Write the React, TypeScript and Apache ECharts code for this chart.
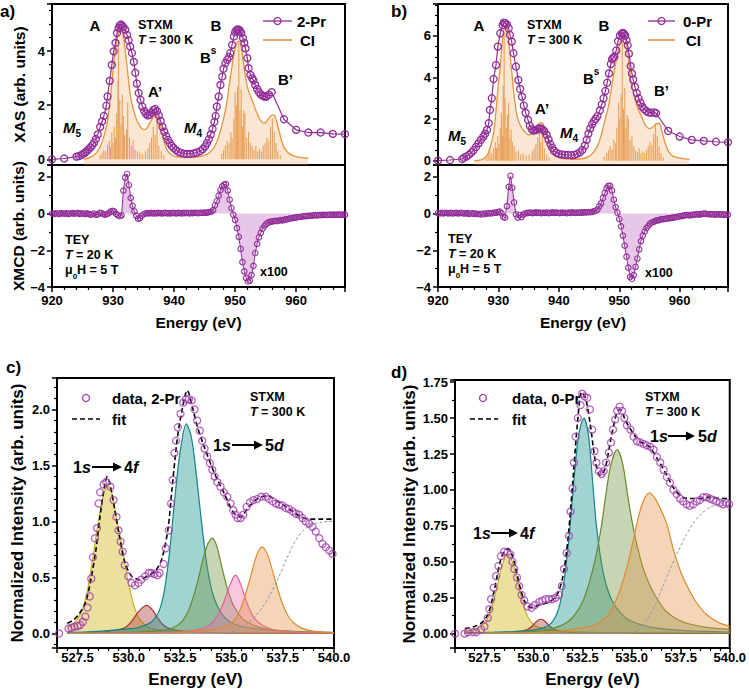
import React, { useEffect, useRef } from 'react';
import * as echarts from 'echarts';

const FF = '"Liberation Sans", Arial, Helvetica, sans-serif';
const PURPLE = '#922e98';
const DATA_PURPLE = '#a23cae';
const ORANGE = '#e8943a';
const XFILL = 'rgba(190,110,195,0.55)';

// ---------- (a) XAS 2-Pr ----------
const xasA = [[920.0,0.0],[922.0,0.03],[924.0,0.1],[924.4,0.12],[924.8,0.16],[925.1,0.2],[925.4,0.25],[925.7,0.3],[926.0,0.37],[926.3,0.44],[926.6,0.52],[926.9,0.62],[927.2,0.75],[927.5,0.92],[927.9,1.2],[928.2,1.4],[928.5,1.6],[928.9,1.98],[929.1,2.32],[929.45,2.9],[929.8,3.49],[930.1,3.99],[930.4,4.3],[930.65,4.67],[930.9,4.85],[931.1,4.95],[931.3,4.98],[931.5,4.93],[931.7,4.88],[932.0,4.79],[932.3,4.6],[932.55,4.4],[932.8,4.17],[933.1,3.93],[933.4,3.6],[933.65,3.2],[933.9,2.8],[934.2,2.45],[934.5,2.2],[934.8,1.95],[935.1,1.78],[935.4,1.68],[935.7,1.62],[936.0,1.65],[936.3,1.73],[936.6,1.82],[936.9,1.86],[937.2,1.78],[937.5,1.62],[937.8,1.42],[938.1,1.2],[938.4,1.02],[938.7,0.86],[939.0,0.72],[939.3,0.6],[939.6,0.5],[939.9,0.42],[940.3,0.34],[940.7,0.28],[941.1,0.24],[941.6,0.21],[942.1,0.2],[942.6,0.2],[943.2,0.22],[943.7,0.25],[944.3,0.3],[944.7,0.38],[945.1,0.48],[945.4,0.6],[945.7,0.74],[946.0,0.92],[946.3,1.12],[946.6,1.38],[946.8,1.6],[947.0,1.95],[947.3,2.32],[947.6,2.75],[947.9,3.06],[948.1,3.35],[948.4,3.55],[948.7,3.68],[949.0,3.78],[949.2,3.93],[949.5,4.23],[949.8,4.54],[950.0,4.7],[950.2,4.77],[950.4,4.8],[950.6,4.79],[950.8,4.75],[951.0,4.67],[951.3,4.48],[951.5,4.3],[951.7,4.1],[952.0,3.74],[952.2,3.37],[952.5,3.12],[952.8,3.0],[953.0,2.92],[953.3,2.75],[953.6,2.6],[953.9,2.48],[954.2,2.4],[954.5,2.35],[954.8,2.32],[955.1,2.32],[955.5,2.38],[956.0,2.48],[958.0,1.48],[960.0,1.09],[962.0,0.99],[964.0,0.99],[966.0,0.94],[968.0,0.93]];
const ciA = [[925.2,0.0],[926.5,0.1],[927.3,0.25],[927.9,0.47],[928.5,0.85],[929.0,1.3],[929.4,1.95],[929.8,2.8],[930.1,3.5],[930.4,4.05],[930.7,4.5],[930.95,4.7],[931.3,4.75],[931.5,4.7],[931.7,4.54],[932.0,4.0],[932.3,3.43],[932.55,2.9],[932.8,2.44],[933.1,2.05],[933.4,1.8],[933.8,1.5],[934.2,1.3],[934.6,1.17],[935.0,1.1],[935.4,1.12],[935.8,1.25],[936.2,1.42],[936.6,1.56],[936.9,1.62],[937.2,1.6],[937.5,1.45],[937.8,1.2],[938.1,0.92],[938.4,0.62],[938.7,0.42],[939.0,0.3],[939.5,0.18],[940.0,0.12],[941.0,0.08],[942.5,0.07],[944.0,0.09],[945.0,0.15],[945.8,0.25],[946.5,0.42],[947.1,0.7],[947.6,1.05],[948.2,1.6],[948.7,2.2],[949.1,2.85],[949.5,3.45],[949.8,3.9],[950.1,4.2],[950.4,4.35],[950.6,4.37],[950.85,4.3],[951.1,4.0],[951.4,3.5],[951.7,3.05],[952.0,2.69],[952.4,2.4],[952.8,2.18],[953.2,1.92],[953.6,1.7],[954.0,1.5],[954.4,1.38],[954.7,1.33],[955.0,1.36],[955.4,1.48],[955.8,1.6],[956.2,1.65],[956.5,1.6],[956.8,1.4],[957.2,1.05],[957.6,0.7],[958.0,0.45],[958.5,0.28],[959.1,0.18],[960.0,0.1],[961.0,0.06],[962.0,0.04]];
const sticksA = [[927.9,0.15],[928.2,0.25],[928.5,0.35],[928.8,0.3],[929.1,0.55],[929.4,0.7],[929.6,0.45],[929.8,1.0],[930.0,0.6],[930.2,1.2],[930.4,0.8],[930.6,1.7],[930.8,2.9],[930.9,4.4],[931.1,2.2],[931.3,1.3],[931.5,2.4],[931.7,1.6],[931.9,0.9],[932.2,1.1],[932.4,2.1],[932.7,0.8],[933.0,0.5],[933.3,0.7],[933.6,0.35],[934.0,0.3],[934.4,0.25],[934.8,0.2],[935.3,0.3],[935.7,0.4],[936.0,0.6],[936.3,0.8],[936.6,1.2],[936.9,0.9],[937.2,1.5],[937.5,0.5],[937.9,0.3],[938.3,0.15],[947.8,0.2],[948.1,0.35],[948.4,0.5],[948.7,0.7],[949.0,0.6],[949.3,1.0],[949.5,0.8],[949.8,1.5],[950.0,2.5],[950.2,2.0],[950.4,2.7],[950.6,4.3],[950.8,1.8],[951.0,2.6],[951.2,1.2],[951.4,1.8],[951.6,1.7],[951.9,0.8],[952.2,1.0],[952.5,0.6],[952.8,0.5],[953.1,0.35],[953.4,0.5],[953.7,0.3],[954.0,0.4],[954.3,0.3],[954.6,0.5],[954.9,0.6],[955.2,0.8],[955.5,0.7],[955.8,1.2],[956.1,1.5],[956.4,1.0],[956.7,0.6],[957.0,0.3],[957.4,0.15]];

// ---------- (b) XAS 0-Pr ----------
const xasB = [[920.0,0.0],[922.0,0.03],[924.0,0.08],[924.3,0.14],[924.7,0.2],[925.1,0.27],[925.5,0.38],[925.9,0.51],[926.3,0.66],[926.7,0.83],[927.1,1.0],[927.5,1.16],[927.8,1.3],[928.1,1.48],[928.4,1.8],[928.6,2.44],[928.9,3.0],[929.2,3.93],[929.6,4.6],[929.9,5.49],[930.3,6.13],[930.7,6.53],[930.9,6.64],[931.1,6.62],[931.4,6.56],[931.7,6.37],[931.9,6.05],[932.2,5.73],[932.5,5.17],[932.9,4.53],[933.3,3.88],[933.6,3.45],[933.9,3.08],[934.2,2.65],[934.5,2.3],[934.9,1.96],[935.2,1.68],[935.5,1.52],[935.8,1.45],[936.1,1.47],[936.4,1.5],[936.7,1.55],[937.0,1.55],[937.3,1.5],[937.6,1.42],[938.0,1.24],[938.3,1.02],[938.6,0.8],[938.9,0.62],[939.2,0.48],[939.6,0.38],[940.0,0.32],[940.5,0.3],[941.0,0.28],[941.5,0.27],[942.1,0.26],[942.6,0.28],[943.0,0.32],[943.5,0.4],[943.9,0.52],[944.3,0.72],[944.6,1.0],[944.9,1.3],[945.2,1.55],[945.5,1.75],[945.8,1.9],[946.1,2.02],[946.4,2.15],[946.8,2.42],[947.1,2.7],[947.4,3.0],[947.7,3.35],[948.0,3.75],[948.3,4.2],[948.6,4.65],[948.8,4.88],[949.0,4.95],[949.2,5.0],[949.5,5.3],[949.8,5.75],[950.1,6.02],[950.4,6.12],[950.6,6.15],[950.8,6.1],[951.0,6.02],[951.2,5.8],[951.4,5.55],[951.6,5.15],[951.9,4.55],[952.1,4.2],[952.3,3.9],[952.6,3.55],[952.9,3.25],[953.2,3.0],[953.5,2.8],[953.8,2.6],[954.1,2.48],[954.5,2.38],[954.9,2.32],[955.3,2.31],[955.8,2.32],[956.1,2.28],[958.1,1.43],[960.0,1.16],[962.0,1.0],[964.0,0.95],[966.0,0.91],[968.0,0.88]];
const ciB = [[926.0,0.0],[927.3,0.05],[928.0,0.2],[928.4,0.43],[928.8,0.8],[929.2,1.3],[929.5,2.1],[929.75,2.9],[930.0,3.7],[930.3,4.5],[930.55,5.4],[930.8,6.1],[931.1,6.45],[931.3,6.42],[931.5,6.3],[931.7,5.8],[931.9,5.2],[932.2,4.3],[932.5,3.4],[932.75,2.8],[933.0,2.28],[933.4,1.85],[933.9,1.56],[934.4,1.38],[935.0,1.24],[935.5,1.3],[936.1,1.48],[936.5,1.68],[936.9,1.83],[937.2,1.82],[937.4,1.77],[937.7,1.55],[938.0,1.32],[938.25,0.98],[938.5,0.67],[938.9,0.42],[939.4,0.27],[940.0,0.16],[940.5,0.11],[941.5,0.08],[942.7,0.06],[944.0,0.1],[944.9,0.19],[945.5,0.33],[946.0,0.51],[946.6,0.85],[947.1,1.32],[947.6,1.9],[948.2,2.6],[948.7,3.5],[949.3,4.53],[949.7,5.15],[950.1,5.65],[950.4,5.9],[950.6,6.0],[950.8,5.98],[951.0,5.89],[951.25,5.5],[951.5,5.0],[951.75,4.35],[952.0,3.72],[952.4,3.2],[952.8,2.76],[953.2,2.42],[953.7,2.12],[954.1,1.85],[954.5,1.64],[954.9,1.55],[955.3,1.56],[955.7,1.66],[956.1,1.77],[956.6,1.8],[957.0,1.48],[957.4,1.05],[957.8,0.67],[958.2,0.42],[958.6,0.27],[959.3,0.17],[960.3,0.11],[961.6,0.06]];
const sticksB = [[928.0,0.15],[928.3,0.3],[928.6,0.45],[928.9,0.35],[929.2,0.6],[929.5,0.9],[929.7,0.6],[929.9,1.2],[930.1,0.8],[930.3,1.6],[930.5,2.3],[930.65,1.2],[930.8,3.6],[930.95,6.2],[931.1,3.0],[931.3,1.6],[931.5,2.2],[931.7,2.8],[931.9,1.1],[932.1,1.5],[932.3,0.9],[932.6,0.7],[932.9,0.45],[933.3,0.5],[933.7,0.3],[934.1,0.35],[934.6,0.25],[935.1,0.3],[935.6,0.45],[935.9,0.6],[936.2,0.8],[936.5,1.1],[936.8,1.4],[937.0,0.9],[937.3,1.7],[937.6,0.6],[938.0,0.3],[938.4,0.15],[947.5,0.2],[947.9,0.35],[948.2,0.5],[948.5,0.7],[948.8,0.55],[949.1,1.0],[949.4,0.85],[949.6,1.6],[949.9,2.8],[950.1,2.0],[950.3,3.2],[950.5,5.8],[950.7,2.5],[950.9,3.5],[951.1,1.6],[951.3,2.2],[951.5,2.0],[951.8,1.0],[952.1,1.2],[952.4,0.7],[952.7,0.5],[953.0,0.4],[953.3,0.6],[953.6,0.35],[953.9,0.45],[954.2,0.35],[954.5,0.55],[954.8,0.7],[955.1,0.9],[955.4,0.75],[955.7,1.3],[956.0,1.8],[956.3,1.2],[956.6,0.7],[956.9,0.35],[957.3,0.15]];

// ---------- XMCD (x100), energy grid 920 eV + 0.3 eV steps ----------
const XMCD_E0 = 920;
const XMCD_DE = 0.3;
const xmcdAValues = [
  0.00,-0.02,0.01,0.00,-0.03,0.02,0.00,-0.01,0.01,-0.02,
  0.00,0.02,-0.01,0.00,0.03,-0.02,0.01,0.00,-0.03,0.01,
  -0.02,-0.06,-0.04,0.00,-0.08,-0.05,0.04,0.02,-0.04,-0.06,
  -0.04,0.02,0.10,0.14,0.12,-0.02,-0.10,-0.15,-0.10,1.25,
  1.95,2.15,1.55,0.85,0.42,0.12,-0.12,-0.28,-0.25,-0.12,
  -0.04,0.00,0.02,0.01,0.03,0.00,0.02,0.01,0.03,0.02,
  0.00,0.02,0.03,0.01,0.02,0.00,0.03,0.02,0.01,0.03,
  0.02,0.00,0.03,0.02,0.04,0.01,0.03,0.02,0.04,0.03,
  0.02,0.04,0.03,0.05,0.04,0.06,0.08,0.10,0.18,0.45,
  0.68,0.97,1.28,1.48,1.57,1.60,1.25,0.75,0.30,-0.06,
  -0.35,-0.80,-1.27,-1.93,-2.65,-3.15,-3.50,-3.70,-3.65,-3.35,
  -2.85,-2.15,-1.65,-1.30,-1.05,-0.82,-0.68,-0.56,-0.50,-0.46,
  -0.44,-0.42,-0.40,-0.41,-0.38,-0.36,-0.37,-0.33,-0.32,-0.30,
  -0.27,-0.25,-0.24,-0.22,-0.20,-0.19,-0.18,-0.16,-0.15,-0.14,
  -0.13,-0.12,-0.12,-0.10,-0.09,-0.10,-0.08,-0.09,-0.07,-0.08,
  -0.07,-0.08,-0.06,-0.07,-0.06,-0.07,-0.06,-0.06,-0.07,-0.06,
  -0.06];
const xmcdBValues = [
  0.02,0.00,0.03,0.01,0.04,0.02,0.00,0.03,0.01,0.02,
  0.03,0.00,0.02,0.04,0.01,0.00,0.02,-0.02,0.00,0.01,
  -0.02,0.00,-0.04,-0.02,-0.05,0.00,-0.03,0.01,0.02,0.00,
  0.02,0.05,0.04,0.08,0.10,0.02,-0.18,-0.22,0.40,1.45,
  2.05,1.40,0.60,-0.05,-0.22,-0.08,-0.20,-0.06,0.00,0.02,
  0.03,0.05,0.02,0.04,0.06,0.03,0.05,0.02,0.04,0.03,
  0.05,0.02,0.04,0.06,0.03,0.05,0.04,0.02,0.05,0.03,
  0.04,0.02,0.05,0.03,0.06,0.04,0.03,0.05,0.04,0.06,
  0.05,0.07,0.06,0.08,0.07,0.09,0.12,0.15,0.22,0.40,
  0.55,0.85,1.12,1.38,1.50,1.50,1.25,0.75,0.35,0.05,
  -0.30,-0.70,-1.20,-1.75,-2.35,-2.95,-3.45,-3.55,-3.35,-2.90,
  -2.45,-1.95,-1.50,-1.20,-0.98,-0.80,-0.68,-0.55,-0.49,-0.45,
  -0.40,-0.37,-0.36,-0.32,-0.31,-0.30,-0.28,-0.27,-0.25,-0.24,
  -0.22,-0.20,-0.19,-0.16,-0.14,-0.13,-0.10,-0.09,-0.08,-0.10,
  -0.07,-0.08,-0.05,-0.04,-0.06,-0.03,-0.02,0.00,-0.02,-0.04,
  -0.03,-0.05,-0.04,-0.06,-0.05,-0.04,-0.06,-0.05,-0.07,-0.06,
  -0.06];
const fillRangesA = [[931.4, 933.6], [946.4, 960.0]];
const fillRangesB = [[931.4, 932.9], [946.4, 960.0]];

// ---------- (c) O K-edge 2-Pr ----------
const cData = [[526.6,0.0],[527.06,0.044],[527.2,0.05],[527.34,0.06],[527.5,0.065],[527.63,0.075],[527.76,0.104],[527.88,0.15],[527.99,0.23],[528.09,0.33],[528.17,0.49],[528.25,0.68],[528.35,0.85],[528.45,0.94],[528.53,1.16],[528.6,1.26],[528.77,1.33],[528.9,1.35],[529.1,1.31],[529.26,1.19],[529.4,1.04],[529.5,0.92],[529.6,0.82],[529.7,0.73],[529.8,0.61],[529.97,0.51],[530.13,0.45],[530.3,0.43],[530.47,0.45],[530.6,0.48],[530.8,0.51],[530.97,0.54],[531.1,0.54],[531.25,0.53],[531.4,0.52],[531.5,0.54],[531.7,0.62],[531.8,0.76],[531.95,0.92],[532.06,1.16],[532.14,1.37],[532.22,1.61],[532.3,1.72],[532.39,1.84],[532.52,1.96],[532.65,2.06],[532.78,2.09],[532.93,2.09],[533.06,2.08],[533.2,2.0],[533.33,1.9],[533.46,1.81],[533.58,1.72],[533.69,1.65],[533.82,1.58],[533.95,1.52],[534.07,1.46],[534.18,1.4],[534.31,1.35],[534.47,1.31],[534.63,1.26],[534.8,1.22],[534.96,1.16],[535.09,1.1],[535.2,1.06],[535.3,1.03],[535.45,1.03],[535.58,1.06],[535.74,1.13],[535.9,1.17],[536.07,1.19],[536.26,1.2],[536.46,1.22],[536.67,1.22],[536.83,1.2],[537.0,1.18],[537.16,1.16],[537.32,1.15],[537.49,1.14],[537.65,1.12],[537.81,1.11],[537.97,1.09],[538.14,1.07],[538.3,1.06],[538.46,1.03],[538.62,1.0],[538.79,0.98],[538.95,0.95],[539.11,0.91],[539.28,0.85],[539.44,0.8],[539.6,0.77],[539.77,0.74],[539.93,0.71]];
const cFit = [[527.0,0.09],[527.3,0.12],[527.6,0.18],[527.9,0.28],[528.15,0.48],[528.4,0.75],[528.6,1.05],[528.8,1.3],[528.95,1.4],[529.1,1.32],[529.3,1.12],[529.55,0.86],[529.8,0.64],[530.1,0.52],[530.5,0.48],[530.9,0.51],[531.3,0.56],[531.6,0.66],[531.9,0.92],[532.1,1.28],[532.35,1.72],[532.6,2.0],[532.85,2.17],[533.1,2.02],[533.35,1.84],[533.65,1.68],[534.15,1.44],[534.65,1.25],[535.1,1.08],[535.45,1.04],[535.8,1.12],[536.25,1.2],[536.75,1.23],[537.25,1.18],[537.9,1.1],[538.4,1.04],[538.8,1.02],[539.4,1.02],[540.0,1.02]];
const cYellow = [[527.0,0.05],[527.25,0.08],[527.5,0.13],[527.75,0.22],[528.0,0.4],[528.25,0.68],[528.5,0.98],[528.75,1.22],[528.95,1.32],[529.15,1.27],[529.4,1.03],[529.65,0.8],[529.9,0.53],[530.15,0.31],[530.4,0.17],[530.65,0.1],[530.9,0.06],[531.4,0.035],[532.0,0.022],[533.0,0.012],[534.0,0.008],[535.0,0.006],[536.0,0.004],[538.0,0.003],[540.0,0.002]];
const cRed = [[527.0,0.005],[528.5,0.01],[529.0,0.02],[529.5,0.035],[529.8,0.05],[530.05,0.09],[530.3,0.15],[530.55,0.21],[530.87,0.25],[531.15,0.21],[531.4,0.14],[531.65,0.08],[531.9,0.05],[532.4,0.025],[533.0,0.015],[534.0,0.008],[536.0,0.004],[540.0,0.002]];
const cTeal = [[527.0,0.01],[528.0,0.015],[529.0,0.025],[530.0,0.04],[530.5,0.055],[531.0,0.09],[531.25,0.13],[531.5,0.21],[531.75,0.4],[532.0,0.75],[532.25,1.22],[532.5,1.62],[532.8,1.87],[533.05,1.75],[533.3,1.4],[533.55,0.98],[533.8,0.62],[534.05,0.38],[534.3,0.25],[534.55,0.17],[534.8,0.12],[535.2,0.08],[535.7,0.055],[536.5,0.035],[537.5,0.022],[538.5,0.015],[540.0,0.01]];
const cGreen = [[527.0,0.002],[529.0,0.006],[530.5,0.012],[531.5,0.025],[532.0,0.04],[532.5,0.09],[532.85,0.18],[533.1,0.3],[533.35,0.46],[533.6,0.65],[533.85,0.8],[534.07,0.85],[534.3,0.77],[534.55,0.58],[534.8,0.4],[535.05,0.27],[535.3,0.19],[535.55,0.13],[535.8,0.1],[536.2,0.065],[536.7,0.04],[537.5,0.022],[538.5,0.012],[540.0,0.006]];
const cPink = [[527.0,0.001],[531.0,0.005],[532.5,0.015],[533.3,0.03],[533.8,0.06],[534.1,0.1],[534.4,0.18],[534.65,0.29],[534.9,0.42],[535.2,0.52],[535.45,0.44],[535.7,0.3],[535.95,0.19],[536.2,0.12],[536.5,0.075],[537.0,0.035],[537.5,0.018],[538.5,0.008],[540.0,0.003]];
const cOrange = [[527.0,0.001],[532.0,0.006],[533.5,0.02],[534.3,0.04],[534.8,0.07],[535.1,0.11],[535.35,0.18],[535.6,0.3],[535.85,0.45],[536.1,0.62],[536.3,0.73],[536.5,0.77],[536.75,0.71],[537.0,0.56],[537.25,0.4],[537.5,0.26],[537.75,0.16],[538.0,0.1],[538.4,0.05],[539.0,0.02],[540.0,0.006]];
const cStep = [[527.0,0.0],[534.5,0.0],[534.9,0.01],[535.3,0.04],[535.7,0.08],[536.1,0.14],[536.5,0.23],[536.9,0.35],[537.3,0.5],[537.7,0.67],[538.1,0.82],[538.5,0.92],[538.9,0.97],[539.3,0.99],[539.7,1.0],[540.0,1.0]];

// ---------- (d) O K-edge 0-Pr ----------
const dData = [[526.0,0.0],[526.49,0.0],[526.66,0.01],[526.91,0.01],[527.08,0.01],[527.33,0.03],[527.5,0.05],[527.67,0.11],[527.75,0.17],[527.84,0.24],[527.97,0.32],[528.09,0.4],[528.21,0.47],[528.34,0.54],[528.51,0.57],[528.68,0.57],[528.82,0.55],[528.93,0.5],[529.02,0.45],[529.16,0.39],[529.27,0.33],[529.39,0.27],[529.53,0.23],[529.69,0.19],[529.9,0.18],[530.08,0.2],[530.29,0.22],[530.45,0.23],[530.62,0.24],[530.79,0.24],[530.96,0.24],[531.13,0.25],[531.3,0.27],[531.44,0.33],[531.55,0.45],[531.69,0.56],[531.81,0.68],[531.89,0.85],[531.99,1.01],[532.06,1.19],[532.15,1.37],[532.26,1.5],[532.4,1.59],[532.48,1.67],[532.6,1.65],[532.74,1.64],[532.87,1.56],[532.99,1.42],[533.11,1.27],[533.21,1.19],[533.33,1.13],[533.47,1.11],[533.58,1.13],[533.7,1.19],[533.84,1.26],[533.95,1.33],[534.05,1.42],[534.16,1.49],[534.26,1.55],[534.39,1.58],[534.51,1.55],[534.63,1.5],[534.76,1.45],[534.94,1.42],[535.1,1.37],[535.27,1.34],[535.44,1.33],[535.61,1.32],[535.78,1.31],[535.95,1.3],[536.12,1.28],[536.29,1.23],[536.46,1.19],[536.63,1.14],[536.8,1.09],[536.96,1.05],[537.13,1.0],[537.3,0.97],[537.47,0.94],[537.63,0.92],[537.8,0.9],[537.97,0.89],[538.14,0.9],[538.31,0.92],[538.48,0.93],[538.65,0.95],[538.82,0.95],[538.99,0.94],[539.16,0.93],[539.32,0.92],[539.49,0.91],[539.66,0.9],[539.83,0.91],[539.97,0.9]];
const dFit = [[526.5,0.035],[527.0,0.05],[527.4,0.08],[527.7,0.14],[528.0,0.3],[528.3,0.5],[528.5,0.57],[528.7,0.59],[528.9,0.55],[529.1,0.45],[529.36,0.3],[529.6,0.21],[529.9,0.18],[530.3,0.2],[530.8,0.22],[531.2,0.27],[531.5,0.4],[531.75,0.65],[532.0,1.05],[532.25,1.48],[532.45,1.68],[532.65,1.64],[532.9,1.45],[533.15,1.2],[533.4,1.1],[533.65,1.15],[533.95,1.36],[534.25,1.54],[534.4,1.56],[534.7,1.48],[535.0,1.41],[535.4,1.34],[535.9,1.3],[536.3,1.22],[536.8,1.1],[537.2,1.0],[537.6,0.95],[538.0,0.94],[538.5,0.94],[539.0,0.95],[539.5,0.94],[540.0,0.94]];
const dYellow = [[526.5,0.015],[527.0,0.03],[527.3,0.05],[527.6,0.09],[527.85,0.17],[528.1,0.3],[528.35,0.45],[528.55,0.53],[528.7,0.55],[528.9,0.51],[529.1,0.41],[529.35,0.27],[529.6,0.15],[529.85,0.085],[530.1,0.055],[530.5,0.035],[531.0,0.025],[532.0,0.015],[534.0,0.008],[537.0,0.005],[540.0,0.003]];
const dRed = [[526.5,0.001],[528.5,0.005],[529.3,0.015],[529.7,0.03],[529.95,0.055],[530.15,0.085],[530.37,0.1],[530.6,0.085],[530.8,0.055],[531.04,0.03],[531.4,0.015],[532.0,0.007],[534.0,0.003],[540.0,0.001]];
const dTeal = [[526.5,0.005],[528.0,0.01],[529.0,0.015],[530.0,0.025],[530.5,0.04],[530.8,0.06],[531.05,0.1],[531.3,0.18],[531.55,0.36],[531.8,0.65],[532.05,1.05],[532.3,1.38],[532.57,1.5],[532.8,1.38],[533.0,1.08],[533.2,0.76],[533.45,0.5],[533.7,0.34],[534.0,0.23],[534.4,0.15],[534.8,0.1],[535.4,0.065],[536.2,0.04],[537.5,0.022],[540.0,0.01]];
const dGreen = [[526.5,0.003],[529.0,0.008],[530.5,0.02],[531.2,0.045],[531.72,0.08],[532.1,0.13],[532.5,0.22],[532.85,0.36],[533.15,0.52],[533.45,0.74],[533.7,0.98],[533.95,1.18],[534.26,1.28],[534.55,1.18],[534.8,0.96],[535.05,0.76],[535.3,0.6],[535.6,0.45],[535.95,0.33],[536.4,0.22],[536.8,0.15],[537.4,0.095],[538.0,0.065],[539.0,0.04],[540.0,0.03]];
const dOrange = [[526.5,0.002],[530.0,0.008],[531.5,0.02],[532.5,0.04],[533.0,0.055],[533.4,0.08],[533.8,0.13],[534.1,0.2],[534.45,0.32],[534.8,0.48],[535.1,0.66],[535.4,0.84],[535.65,0.94],[535.91,0.98],[536.2,0.94],[536.5,0.86],[536.8,0.76],[537.1,0.6],[537.45,0.45],[537.8,0.34],[538.15,0.25],[538.5,0.18],[538.85,0.13],[539.4,0.08],[540.0,0.05]];
const dStep = [[526.5,0.0],[535.0,0.0],[535.4,0.03],[535.8,0.1],[536.2,0.2],[536.6,0.33],[537.0,0.46],[537.4,0.58],[537.8,0.69],[538.2,0.78],[538.6,0.84],[539.0,0.88],[539.4,0.9],[539.8,0.915],[540.0,0.92]];

const STY = {
  yellow: { line: '#c8b41e', fill: 'rgba(212,190,40,0.66)' },
  red: { line: '#a83232', fill: 'rgba(170,60,60,0.58)' },
  teal: { line: '#138585', fill: 'rgba(30,150,150,0.6)' },
  green: { line: '#6a8a2a', fill: 'rgba(110,145,60,0.55)' },
  pink: { line: '#e85aa0', fill: 'rgba(240,110,170,0.55)' },
  orange: { line: '#e08a30', fill: 'rgba(230,145,70,0.55)' },
};

const onGrid = (vals: number[]) => vals.map((v, i) => [Math.round((XMCD_E0 + i * XMCD_DE) * 100) / 100, v]);

const isMult = (v: number, s: number) => Math.abs(v / s - Math.round(v / s)) < 1e-6;
const fmtInt = (v: number) => (v < 0 ? '\u2212' + Math.abs(v) : String(v));

function axis(gi: number, min: number, max: number, step: number, minor: number, fmt: (v: number) => string, show: boolean, extra: any = {}, margin = 7) {
  return {
    type: 'value', gridIndex: gi, min, max, minInterval: step, maxInterval: step,
    axisLine: { show: true, onZero: false, lineStyle: { color: '#000', width: 2 } },
    axisTick: { show, length: 5, lineStyle: { color: '#000', width: 1.5 } },
    minorTick: { show, splitNumber: minor, length: 3, lineStyle: { color: '#000', width: 1.2 } },
    splitLine: { show: false },
    minorSplitLine: { show: false },
    axisLabel: {
      show, color: '#000', fontSize: 13, fontWeight: 'bold', fontFamily: FF, margin,
      formatter: (v: number) => (isMult(v, step) ? fmt(v) : ''),
    },
    nameLocation: 'middle',
    nameTextStyle: { color: '#000', fontSize: 15.5, fontWeight: 'bold', fontFamily: FF },
    ...extra,
  };
}

function rich(size: number) {
  const lh = size + 8;
  return {
    i: { fontStyle: 'italic', fontWeight: 'bold', fontSize: size, fontFamily: FF, lineHeight: lh, fill: '#000' },
    n: { fontWeight: 'bold', fontSize: size, fontFamily: FF, lineHeight: lh, fill: '#000' },
    sub: { fontWeight: 'bold', fontSize: Math.round(size * 0.65), fontFamily: FF, lineHeight: Math.round(size * 0.65), verticalAlign: 'bottom', fill: '#000' },
    sup: { fontWeight: 'bold', fontSize: Math.round(size * 0.65), fontFamily: FF, lineHeight: Math.round(size * 0.65), verticalAlign: 'top', fill: '#000' },
  };
}

function T(x: number, y: number, text: string, size = 12.5, align = 'left') {
  return {
    type: 'text', x, y, z: 100, silent: true,
    style: { text, fill: '#000', fontSize: size, fontWeight: 'bold', fontFamily: FF, align, verticalAlign: 'middle', lineHeight: size + 8, rich: rich(size) },
  };
}
function L(x1: number, y1: number, x2: number, y2: number, stroke: string, lw: number, dash?: number[]) {
  return { type: 'line', z: 100, silent: true, shape: { x1, y1, x2, y2 }, style: { stroke, lineWidth: lw, lineDash: dash } };
}
function C(cx: number, cy: number, r: number, stroke: string) {
  return { type: 'circle', z: 101, silent: true, shape: { cx, cy, r }, style: { fill: 'none', stroke, lineWidth: 1.3 } };
}
function arrow(x1: number, x2: number, y: number) {
  return [
    L(x1, y, x2 - 6, y, '#000', 2),
    { type: 'polygon', z: 100, silent: true, shape: { points: [[x2 - 9, y - 4.5], [x2, y], [x2 - 9, y + 4.5]] }, style: { fill: '#000' } },
  ];
}

const stickRender = (params: any, api: any) => {
  const p0 = api.coord([api.value(0), 0]);
  const p1 = api.coord([api.value(0), api.value(1)]);
  return { type: 'line', shape: { x1: p0[0], y1: p0[1], x2: p1[0], y2: p1[1] }, style: { stroke: '#e9a058', lineWidth: 1.1 } };
};

export default function App() {
  const ref = useRef<HTMLDivElement>(null);
  useEffect(() => {
    if (!ref.current) return;
    const chart = echarts.init(ref.current, undefined, { renderer: 'svg' });
    const xmcdA = onGrid(xmcdAValues);
    const xmcdB = onGrid(xmcdBValues);
    const inRange = (arr: number[][], r: number[]) => arr.filter(([x]) => x >= r[0] - 1e-6 && x <= r[1] + 1e-6);

    const gridBox = (left: number, top: number, width: number, height: number) => ({ left, top, width, height, show: true, borderColor: '#000', borderWidth: 2, backgroundColor: 'transparent' });

    const xasSeries = (gi: number, xas: number[][], ci: number[][], sticks: number[][]) => [
      { type: 'line', xAxisIndex: gi, yAxisIndex: gi, data: ci, smooth: 0.35, symbol: 'none', lineStyle: { color: ORANGE, width: 1.3 }, areaStyle: { color: 'rgba(242,170,105,0.42)', origin: 'start' }, z: 2 },
      { type: 'custom', xAxisIndex: gi, yAxisIndex: gi, data: sticks, renderItem: stickRender, encode: { x: 0, y: 1 }, z: 3 },
      { type: 'line', xAxisIndex: gi, yAxisIndex: gi, data: xas, symbol: 'circle', symbolSize: 7, lineStyle: { color: PURPLE, width: 1.2 }, itemStyle: { color: 'rgba(255,255,255,0)', borderColor: PURPLE, borderWidth: 1.3 }, z: 5 },
    ];
    const xmcdSeries = (gi: number, data: number[][], ranges: number[][]) => [
      ...ranges.map((r) => ({ type: 'line', xAxisIndex: gi, yAxisIndex: gi, data: inRange(data, r), symbol: 'none', lineStyle: { width: 0 }, areaStyle: { color: XFILL }, z: 2 })),
      { type: 'line', xAxisIndex: gi, yAxisIndex: gi, data, symbol: 'circle', symbolSize: 5.5, lineStyle: { color: PURPLE, width: 1 }, itemStyle: { color: 'rgba(255,255,255,0)', borderColor: PURPLE, borderWidth: 1.1 }, z: 5 },
    ];
    const fitSeries = (gi: number, data: number[][], fit: number[][], comps: [number[][], { line: string; fill: string }][], step: number[][]) => [
      ...comps.map(([c, s], k) => ({ type: 'line', xAxisIndex: gi, yAxisIndex: gi, data: c, smooth: 0.3, symbol: 'none', lineStyle: { color: s.line, width: 1.2 }, areaStyle: { color: s.fill }, z: 2 + k * 0.1 })),
      { type: 'line', xAxisIndex: gi, yAxisIndex: gi, data: step, smooth: 0.3, symbol: 'none', lineStyle: { color: '#8a9bb2', width: 1, type: [3, 2] }, z: 3 },
      { type: 'line', xAxisIndex: gi, yAxisIndex: gi, data: fit, smooth: 0.3, symbol: 'none', lineStyle: { color: '#000', width: 1.6, type: [5, 3] }, z: 4 },
      { type: 'scatter', xAxisIndex: gi, yAxisIndex: gi, data, symbol: 'circle', symbolSize: 7, itemStyle: { color: 'rgba(255,255,255,0)', borderColor: DATA_PURPLE, borderWidth: 1.3 }, z: 5 },
    ];

    const f1 = (v: number) => v.toFixed(1);
    const f2 = (v: number) => v.toFixed(2);
    const bigName = { color: '#000', fontSize: 17, fontWeight: 'bold', fontFamily: FF };

    const graphic: any[] = [
      T(0, 11, 'a)', 17), T(391, 11, 'b)', 17), T(6, 367, 'c)', 17), T(391, 372, 'd)', 17),
      // a top
      T(95, 25, 'A', 15, 'center'), T(138, 25, 'STXM'), T(138, 40, '{i|T} = 300 K'), T(216, 25, 'B', 15, 'center'),
      T(200, 57, '{n|B}{sup|s}', 15), T(148, 91, 'A\u2019', 15), T(278, 79, 'B\u2019', 15),
      T(63, 127, '{i|M}{sub|5}', 15), T(184, 127, '{i|M}{sub|4}', 15),
      L(263, 21, 292, 21, PURPLE, 1.3), C(277.5, 21, 3.5, PURPLE), T(297, 21, '2-Pr', 15),
      L(263, 40, 292, 40, ORANGE, 1.6), T(300, 40, 'CI', 15),
      // a bottom
      T(65, 240, 'TEY'), T(65, 255, '{i|T} = 20 K'), T(65, 270, '{n|\u03bc}{sub|0}{n|H = 5 T}'), T(260, 272, 'x100'),
      // b top
      T(479, 25, 'A', 15, 'center'), T(527, 25, 'STXM'), T(527, 40, '{i|T} = 300 K'), T(604, 25, 'B', 15, 'center'),
      T(583, 78, '{n|B}{sup|s}', 15), T(535, 108, 'A\u2019', 15), T(654, 90, 'B\u2019', 15),
      T(448, 135, '{i|M}{sub|5}', 15), T(560, 132, '{i|M}{sub|4}', 15),
      L(648, 21, 675, 21, PURPLE, 1.3), C(661.5, 21, 3.5, PURPLE), T(683, 21, '0-Pr', 15),
      L(648, 40, 675, 40, ORANGE, 1.6), T(686, 40, 'CI', 15),
      // b bottom
      T(448, 239, 'TEY'), T(448, 254, '{i|T} = 20 K'), T(448, 269, '{n|\u03bc}{sub|0}{n|H = 5 T}'), T(645, 273, 'x100'),
      // c
      C(86, 398, 3.5, DATA_PURPLE), T(112, 398, 'data, 2-Pr', 15), L(72, 419, 100, 419, '#000', 1.6, [5, 3]), T(112, 419, 'fit', 15),
      T(250, 397, 'STXM'), T(250, 412, '{i|T} = 300 K'),
      T(213, 445, '1{i|s}', 16), ...arrow(232, 263, 445), T(265, 445, '5{i|d}', 16),
      T(73, 467, '1{i|s}', 16), ...arrow(92, 122, 467), T(124, 467, '4{i|f}', 16),
      // d
      C(483, 398, 3.5, DATA_PURPLE), T(512, 398, 'data, 0-Pr', 15), L(470, 419, 498, 419, '#000', 1.6, [5, 3]), T(512, 419, 'fit', 15),
      T(645, 397, 'STXM'), T(645, 412, '{i|T} = 300 K'),
      T(650, 436, '1{i|s}', 16), ...arrow(668, 695, 436), T(698, 436, '5{i|d}', 16),
      T(473, 533, '1{i|s}', 16), ...arrow(491, 518, 533), T(520, 533, '4{i|f}', 16),
    ];

    const option: any = {
      animation: false,
      backgroundColor: '#fff',
      grid: [
        gridBox(52, 4, 293, 161),
        gridBox(52, 165, 293, 122),
        gridBox(438, 4, 290, 161),
        gridBox(438, 165, 290, 122),
        gridBox(57, 378, 277, 270),
        gridBox(455, 380, 277, 268),
      ],
      xAxis: [
        axis(0, 920, 968, 10, 5, fmtInt, false),
        axis(1, 920, 968, 10, 5, fmtInt, true, { name: 'Energy (eV)', nameGap: 27 }),
        axis(2, 920, 968, 10, 5, fmtInt, false),
        axis(3, 920, 968, 10, 5, fmtInt, true, { name: 'Energy (eV)', nameGap: 27 }),
        axis(4, 526.5, 540, 2.5, 5, f1, true, { name: 'Energy (eV)', nameGap: 23, nameTextStyle: bigName }, 3),
        axis(5, 526, 540, 2.5, 5, f1, true, { name: 'Energy (eV)', nameGap: 23, nameTextStyle: bigName }, 3),
      ],
      yAxis: [
        axis(0, -0.21, 5.74, 2, 4, fmtInt, true, { name: 'XAS (arb. units)', nameGap: 25, nameRotate: 90 }),
        axis(1, -4, 2.64, 2, 2, fmtInt, true, { name: 'XMCD (arb. units)', nameGap: 25, nameRotate: 90 }),
        axis(2, -0.21, 7.54, 2, 4, fmtInt, true),
        axis(3, -4, 2.64, 2, 2, fmtInt, true),
        axis(4, -0.13, 2.28, 0.5, 5, f1, true, { name: 'Normalized Intensity (arb. units)', nameGap: 31, nameRotate: 90, nameTextStyle: bigName }),
        axis(5, -0.1, 1.765, 0.25, 2, f2, true, { name: 'Normalized Intensity (arb. units)', nameGap: 37, nameRotate: 90, nameTextStyle: bigName }),
      ],
      series: [
        ...xasSeries(0, xasA, ciA, sticksA),
        ...xmcdSeries(1, xmcdA, fillRangesA),
        ...xasSeries(2, xasB, ciB, sticksB),
        ...xmcdSeries(3, xmcdB, fillRangesB),
        ...fitSeries(4, cData, cFit, [[cYellow, STY.yellow], [cRed, STY.red], [cTeal, STY.teal], [cGreen, STY.green], [cPink, STY.pink], [cOrange, STY.orange]], cStep),
        ...fitSeries(5, dData, dFit, [[dYellow, STY.yellow], [dRed, STY.red], [dTeal, STY.teal], [dGreen, STY.green], [dOrange, STY.orange]], dStep),
      ],
      graphic,
    };
    chart.setOption(option);
    return () => chart.dispose();
  }, []);
  return <div ref={ref} style={{ position: 'absolute', left: 0, top: 0, width: 749, height: 689 }} />;
}
